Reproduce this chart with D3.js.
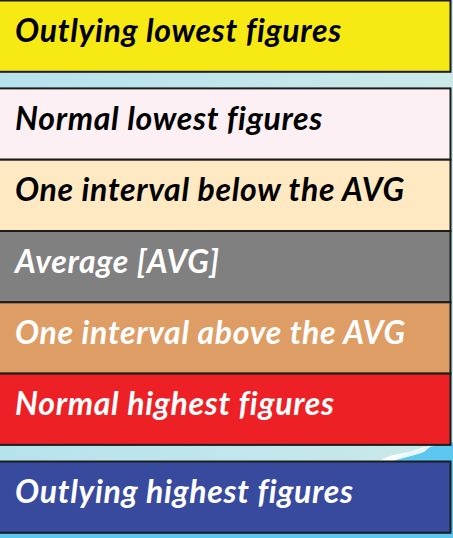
<!DOCTYPE html>
<html>
<head>
<meta charset="utf-8">
<script src="https://cdn.jsdelivr.net/npm/d3@7"></script>
<style>
  html, body { margin: 0; padding: 0; overflow: hidden; background: #c0e5ec; }
  svg { display: block; }
</style>
</head>
<body>
<svg id="chart" width="453" height="538"></svg>
<script>
// ---- data ----
const labels = [
  "Outlying lowest figures",
  "Normal lowest figures",
  "One interval below the AVG",
  "Average [AVG]",
  "One interval above the AVG",
  "Normal highest figures",
  "Outlying highest figures"
];
const fills = ["#f6e914", "#fdf0f4", "#ffe9c2", "#808080", "#de9d65", "#ec2025", "#384a9e"];
const textColors = ["#000000", "#000000", "#000000", "#ffffff", "#ffffff", "#ffffff", "#ffffff"];
const groups = [0, 1, 1, 1, 1, 1, 2];   // separated groups (gaps between)

// ---- layout ----
const W = 453, H = 538;
const boxH = 71.3, gap = 16.6;
const svg = d3.select("#chart");

const defs = svg.append("defs");
const bg = defs.append("linearGradient").attr("id", "bg").attr("x1", "0").attr("x2", "1").attr("y1", "0").attr("y2", "0");
bg.append("stop").attr("offset", "0").attr("stop-color", "#b6e2ee");
bg.append("stop").attr("offset", "1").attr("stop-color", "#cbe9e9");

svg.append("rect").attr("width", W).attr("height", H).attr("fill", "url(#bg)");
// bright blue streak at lower right
svg.append("path")
  .attr("d", "M383,470 C400,455 410,452 425,448 L453,442 L453,538 L0,538 L0,532 L300,532 Z")
  .attr("fill", "#5cc8f1");
svg.append("path")
  .attr("d", "M378,462 C392,452 405,455 418,449 L432,445 L424,452 C408,458 398,458 386,464 Z")
  .attr("fill", "#ffffff").attr("opacity", 0.85);

const idx = d3.range(labels.length);
const y = d3.scaleLinear().domain([0, 1]).range([0, boxH]);
const yPos = i => y(i) + groups[i] * gap;

const g = svg.append("g");
const items = g.selectAll("g.item").data(idx).join("g").attr("class", "item")
  .attr("transform", i => `translate(0,${yPos(i)})`);

items.append("rect")
  .attr("x", -3).attr("y", 0.5)
  .attr("width", 453.5).attr("height", boxH)
  .attr("fill", i => fills[i])
  .attr("stroke", "#1c1c1c").attr("stroke-width", 2);

items.append("text")
  .attr("x", 15).attr("y", 42)
  .attr("font-family", "Lato, 'Open Sans', sans-serif")
  .attr("font-weight", "bold").attr("font-style", "italic")
  .attr("font-size", 32)
  .attr("letter-spacing", 0.7)
  .style("font-variant-ligatures", "none")
  .attr("fill", i => textColors[i])
  .text(i => labels[i]);
</script>
</body>
</html>
